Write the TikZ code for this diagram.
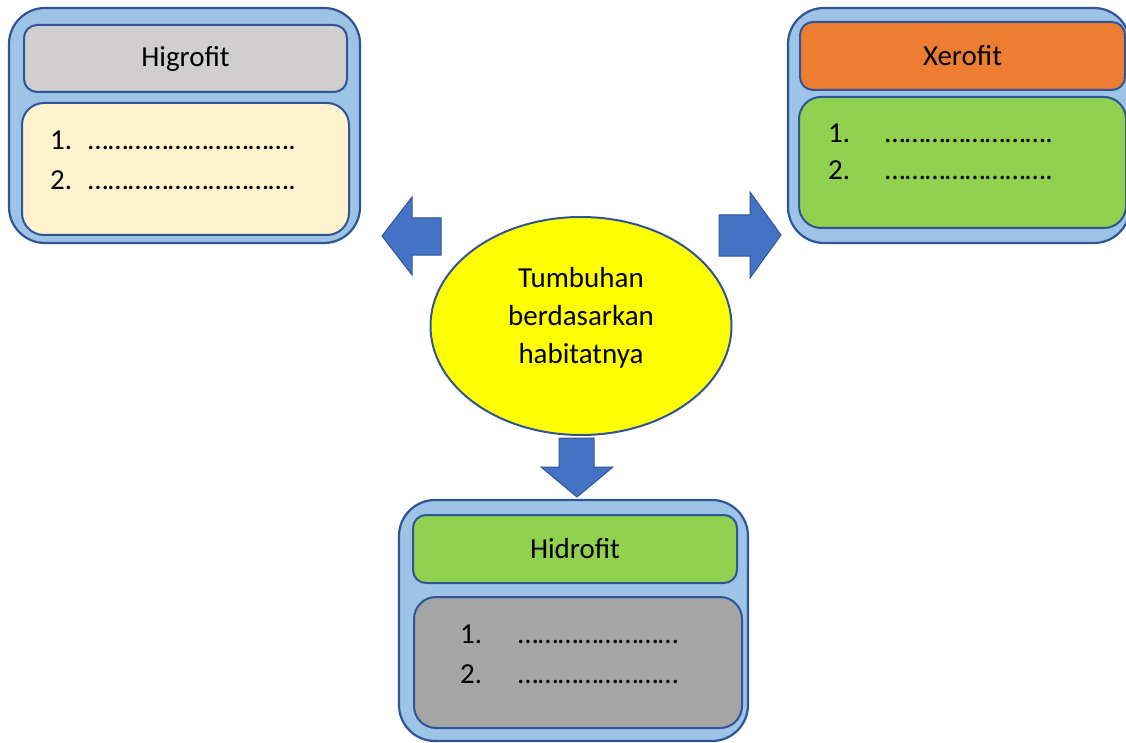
\documentclass[tikz,border=0pt]{standalone}
\usepackage{fontspec}
\setmainfont{Carlito}
\usepackage{tikz}
\usetikzlibrary{shapes.geometric}
\definecolor{edgeblue}{HTML}{2F5597}
\definecolor{frameblue}{HTML}{9DC3E6}
\definecolor{arrowblue}{HTML}{4472C4}
\definecolor{headgray}{HTML}{D0CECE}
\definecolor{cream}{HTML}{FFF2CC}
\definecolor{orangehead}{HTML}{ED7D31}
\definecolor{leafgreen}{HTML}{92D050}
\definecolor{listgray}{HTML}{A5A5A5}
\definecolor{sunyellow}{HTML}{FFFF00}
\tikzstyle{frame}=[draw=edgeblue, fill=frameblue, line width=2.2pt, rounded corners=36pt, inner sep=0pt]
\tikzstyle{header}=[draw=edgeblue, line width=2pt, rounded corners=13pt, inner sep=0pt]
\tikzstyle{list}=[draw=edgeblue, line width=2pt, rounded corners=22pt, inner sep=0pt]
\tikzstyle{item}=[anchor=base west, inner sep=0pt]
\tikzstyle{block arrow}=[draw=edgeblue, fill=arrowblue, line width=1pt, line join=miter]
\tikzstyle{habitat}=[ellipse, draw=edgeblue, fill=sunyellow, line width=2pt, inner sep=0pt]

\begin{document}
\begin{tikzpicture}[x=1pt, y=-1pt, every node/.style={font=\fontsize{29}{38}\selectfont}]
    \useasboundingbox (0,0) rectangle (1126,743);
    % Higrofit
    \node [style=frame, minimum width=351pt, minimum height=235pt] (higroFrame) at (184.5,125.5) {};
    \node [style=header, fill=headgray, minimum width=323pt, minimum height=67pt] (higroHead) at (185.5,58.5) {Higrofit};
    \node [style=list, fill=cream, minimum width=327pt, minimum height=132pt] (higroList) at (185.5,169) {};
    \node [style=item] (higroOne) at (50,150) {\makebox[38pt][l]{1.}………………………….};
    \node [style=item] (higroTwo) at (50,190) {\makebox[38pt][l]{2.}………………………….};
    % Xerofit
    \node [style=frame, minimum width=342pt, minimum height=235pt] (xeroFrame) at (959,125.5) {};
    \node [style=header, fill=orangehead, minimum width=325pt, minimum height=68pt] (xeroHead) at (962.5,56) {Xerofit};
    \node [style=list, fill=leafgreen, minimum width=327pt, minimum height=131pt] (xeroList) at (962.5,162.5) {};
    \node [style=item] (xeroOne) at (828,143) {\makebox[57pt][l]{1.}…………………….};
    \node [style=item] (xeroTwo) at (828,180) {\makebox[57pt][l]{2.}…………………….};
    % Hidrofit
    \node [style=frame, minimum width=349pt, minimum height=241pt] (hidroFrame) at (573.5,620.5) {};
    \node [style=header, fill=leafgreen, minimum width=324pt, minimum height=68pt] (hidroHead) at (575,549) {Hidrofit};
    \node [style=list, fill=listgray, minimum width=328pt, minimum height=131pt] (hidroList) at (578,662.5) {};
    \node [style=item] (hidroOne) at (460,643) {\makebox[58pt][l]{1.}……………………};
    \node [style=item] (hidroTwo) at (460,683) {\makebox[58pt][l]{2.}……………………};
    % centre
    \node [style=habitat, minimum width=301pt, minimum height=218pt] (plant) at (581,326) {};
    \node [align=center, inner sep=0pt] (plantText) at (581,318) {Tumbuhan\\berdasarkan\\habitatnya};
    % block arrows
    \draw [style=block arrow] (441,218) -- (412,218) -- (412,197) -- (382,236) -- (412,275) -- (412,255) -- (441,255) -- cycle;
    \draw [style=block arrow] (719,215) -- (750,215) -- (750,192) -- (781,235) -- (750,278) -- (750,256) -- (719,256) -- cycle;
    \draw [style=block arrow] (559,438) -- (594,438) -- (594,467) -- (613,467) -- (577,497) -- (541,467) -- (559,467) -- cycle;
\end{tikzpicture}
\end{document}
